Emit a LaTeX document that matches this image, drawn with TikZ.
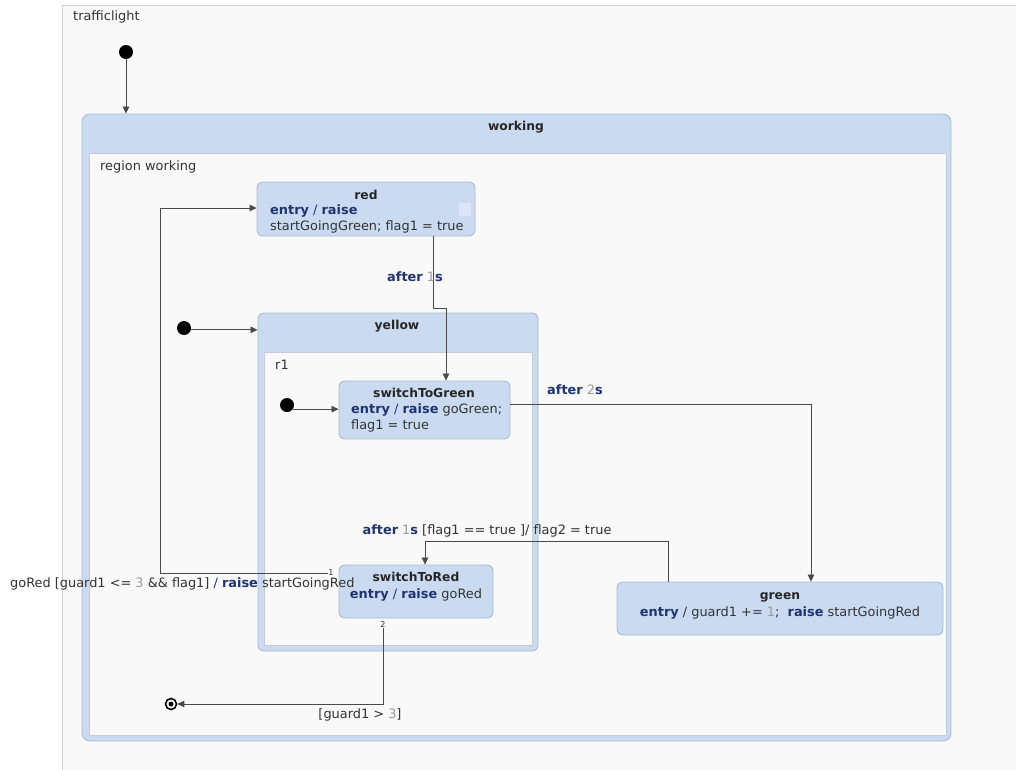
\documentclass[tikz,border=0pt]{standalone}
\usepackage{fontspec}
\setmainfont{DejaVu Sans}
\usetikzlibrary{arrows.meta}
\definecolor{stfill}{HTML}{CADBF1}
\definecolor{stborder}{HTML}{A9BBD4}
\definecolor{regfill}{HTML}{F9F9F9}
\definecolor{regborder}{HTML}{C4CCD8}
\definecolor{outline}{HTML}{D2D2D2}
\definecolor{kw}{HTML}{1F3470}
\definecolor{txtc}{HTML}{333333}
\definecolor{numc}{HTML}{9A9A9A}
\definecolor{edgec}{HTML}{4A4A4A}
\definecolor{scrollc}{HTML}{DCE6F4}
\newcommand\kw[1]{\textcolor{kw}{\textbf{#1}}}
\newcommand\kwr[1]{\textcolor{kw}{#1}}
\newcommand\numc[1]{\textcolor{numc}{#1}}
\tikzset{
  statebox/.style={draw=stborder, fill=stfill, rounded corners=6pt, line width=0.9pt, inner sep=0pt},
  regionbox/.style={draw=regborder, fill=regfill, line width=0.7pt},
  txt/.style={inner sep=0pt, text height=9.5pt, text depth=2.7pt, font=\fontsize{12.9}{15}\selectfont, text=txtc},
  ttl/.style={txt, font=\fontsize{12.3}{15}\selectfont\bfseries, text=black!85},
  small/.style={inner sep=0pt, font=\fontsize{8}{9}\selectfont, text=txtc},
  tr/.style={draw=edgec, line width=0.8pt, -{Triangle[length=7pt,width=6.5pt]}},
  initdot/.style={circle, fill=black, minimum size=14pt, inner sep=0pt},
}
\begin{document}
\begin{tikzpicture}[x=1pt,y=-1pt]
\useasboundingbox (0,0) rectangle (1016,769);
\clip (0,0) rectangle (1016,769);
\fill[white] (0,0) rectangle (1016,769);
% outer region trafficlight
\draw[outline, fill=regfill, line width=0.9pt] (62,5) rectangle (1030,790);
\node[txt, anchor=west] (tl) at (73,17) {trafficlight};
\node[initdot] (i0) at (126,52) {};
% working
\node[statebox, rounded corners=8pt, minimum width=869pt, minimum height=627pt] (working) at (516.5,427.5) {};
\draw[regionbox] (89,153) rectangle (946,735);
\node[ttl] (workingt) at (516,127) {working};
\node[txt, anchor=west] (rw) at (100,167) {region working};
% red
\node[statebox, minimum width=218pt, minimum height=54pt] (red) at (366,209) {};
\begin{scope}
\clip[rounded corners=6pt] (257.5,182.5) rectangle (472,235.5);
\node[ttl] (redt) at (366,196) {red};
\node[txt, anchor=west] (red1) at (270,211) {\kw{entry} \kwr{/} \kw{raise}};
\node[txt, anchor=west] (red2) at (270,227) {startGoingGreen; flag1 = true};
\fill[scrollc] (459,203) rectangle (471,216);
\end{scope}
% yellow
\node[statebox, minimum width=280pt, minimum height=338pt] (yellow) at (398,482) {};
\draw[regionbox] (264,352) rectangle (532,645);
\node[ttl] (yellowt) at (397,326) {yellow};
\node[txt, anchor=west] (r1) at (275,366) {r1};
\node[initdot] (i1) at (184,328) {};
\node[initdot] (i2) at (287,405) {};
% switchToGreen
\node[statebox, minimum width=171pt, minimum height=58pt] (sg) at (424.5,410) {};
\node[ttl] (sgt) at (424,394) {switchToGreen};
\node[txt, anchor=west] (sg1) at (351,410) {\kw{entry} \kwr{/} \kw{raise} goGreen;};
\node[txt, anchor=west] (sg2) at (351,426) {flag1 = true};
% switchToRed
\node[statebox, minimum width=154pt, minimum height=53pt] (sr) at (416,591.5) {};
\node[ttl] (srt) at (416,578) {switchToRed};
\node[txt] (sr1) at (416,595) {\kw{entry} \kwr{/} \kw{raise} goRed};
% green
\node[statebox, minimum width=326pt, minimum height=53pt] (green) at (780,608.5) {};
\node[ttl] (greent) at (780,596) {green};
\node[txt] (green1) at (780,613) {\kw{entry} / guard1 += \numc{1};\ \ \kw{raise} startGoingRed};
% final state
\node[circle, draw=black, line width=1.6pt, minimum size=11pt, inner sep=0pt] (fin) at (171,704) {};
\fill[black] (fin.center) circle (2.5pt);
% transitions
\draw[tr] (i0) -- (i0 |- working.north);
\draw[tr] (i1.-15) -- (i1.-15 -| yellow.west);
\draw[tr] (i2.-35) -- (i2.-35 -| sg.west);
\coordinate (a1) at (433,308);
\coordinate (a2) at (446,308);
\draw[tr] (red.south -| a1) -- (a1) -- (a2) -- (a2 |- sg.north);
\node[txt] (la1) at (415,278) {\kw{after} \numc{1}\kw{s}};
\coordinate (b1) at (811,404);
\draw[tr] (b1 -| sg.east) -- (b1) -- (b1 |- green.north);
\node[txt] (lb1) at (575,391) {\kw{after} \numc{2}\kw{s}};
\coordinate (c1) at (668,541);
\coordinate (c2) at (425,541);
\draw[tr] (c1 |- green.north) -- (c1) -- (c2) -- (c2 |- sr.north);
\node[txt] (lc1) at (487,531) {\kw{after} \numc{1}\kw{s} [flag1 == true ]/ flag2 = true};
\node[small] (n1) at (331,573) {1};
\coordinate (d1) at (160,573);
\coordinate (d2) at (160,208);
\draw[tr] (n1.west) -- (d1) -- (d2) -- (d2 -| red.west);
\node[txt, anchor=west] (ld1) at (10,584) {goRed [guard1 <= \numc{3} \&\& flag1] \kwr{/} \kw{raise} startGoingRed};
\node[small] (n2) at (383,625) {2};
\coordinate (e1) at (383,704);
\draw[tr] (n2.south) -- (e1) -- (fin.east);
\node[txt] (le1) at (360,715) {[guard1 > \numc{3}]};
\end{tikzpicture}
\end{document}
